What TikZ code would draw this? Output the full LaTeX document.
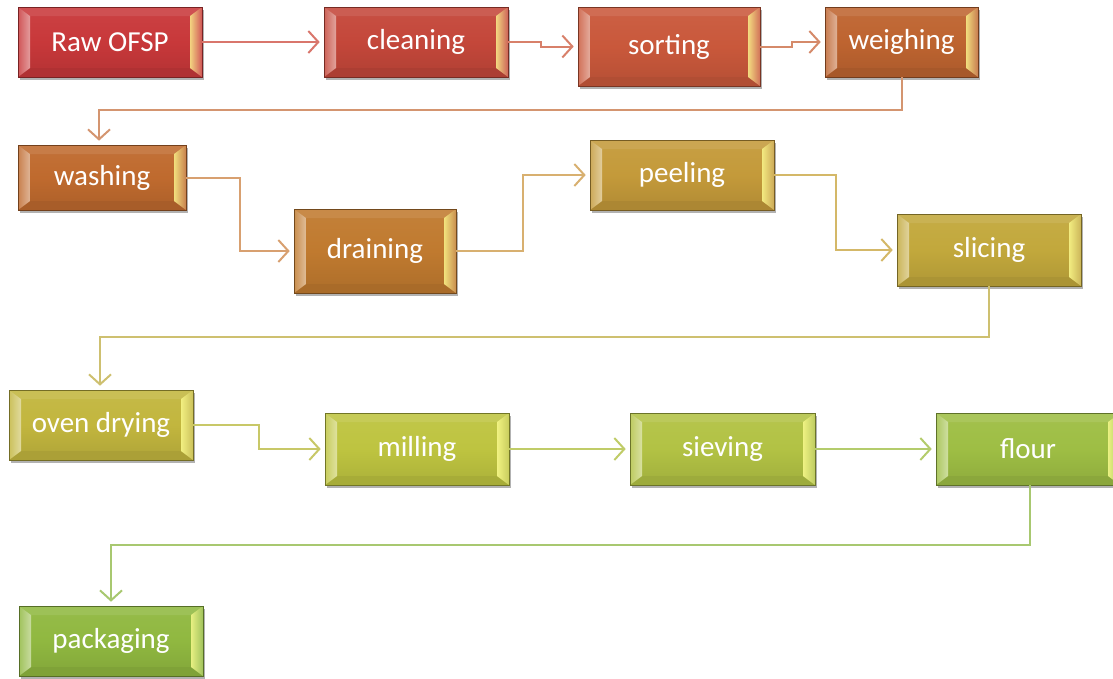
\documentclass[tikz,border=0pt]{standalone}
\usepackage{fontspec}
\setmainfont{Carlito}
\usetikzlibrary{arrows.meta,shadows}
\definecolor{c1}{HTML}{C8383A}
\definecolor{c2}{HTML}{C4473A}
\definecolor{c3}{HTML}{C9583B}
\definecolor{c4}{HTML}{BE6430}
\definecolor{c5}{HTML}{BF6A2E}
\definecolor{c6}{HTML}{C07A2F}
\definecolor{c7}{HTML}{C49A3A}
\definecolor{c8}{HTML}{C2A83C}
\definecolor{c9}{HTML}{C2B63E}
\definecolor{c10}{HTML}{BEC440}
\definecolor{c11}{HTML}{B2C244}
\definecolor{c12}{HTML}{9EBE44}
\definecolor{c13}{HTML}{90B840}
\definecolor{a1}{HTML}{D9766C}
\definecolor{a2}{HTML}{D8806A}
\definecolor{a3}{HTML}{D58A6A}
\definecolor{a4}{HTML}{D49570}
\definecolor{a5}{HTML}{D8A070}
\definecolor{a6}{HTML}{D8B070}
\definecolor{a7}{HTML}{D4B868}
\definecolor{a8}{HTML}{CEC070}
\definecolor{a9}{HTML}{C8C868}
\definecolor{a10}{HTML}{C0CC68}
\definecolor{a11}{HTML}{B4CC6C}
\definecolor{a12}{HTML}{A8C870}
\newcommand\ppb{path picture bounding box}
\tikzset{
  bevbox/.style={rectangle, minimum width=184pt, minimum height=70pt, inner sep=0pt,
    text=white, font=\fontsize{29}{34}\selectfont, draw=#1!60!black, line width=0.6pt,
    top color=#1!95!white, bottom color=#1!90!black, middle color=#1,
    drop shadow={shadow xshift=1.5pt, shadow yshift=-3pt, opacity=0.3, fill=black},
    path picture={
      \fill[#1!88!white] (\ppb.north west) -- (\ppb.north east) -- ([shift={(-12pt,-9pt)}]\ppb.north east) -- ([shift={(12pt,-9pt)}]\ppb.north west) -- cycle;
      \fill[#1!88!black] (\ppb.south west) -- (\ppb.south east) -- ([shift={(-12pt,9pt)}]\ppb.south east) -- ([shift={(12pt,9pt)}]\ppb.south west) -- cycle;
      \shade[left color=#1!85!white, right color=#1!50!white] (\ppb.south west) -- (\ppb.north west) -- ([shift={(12pt,-9pt)}]\ppb.north west) -- ([shift={(12pt,9pt)}]\ppb.south west) -- cycle;
      \shade[left color=#1!40!yellow!55!white, right color=#1!85!white] (\ppb.south east) -- (\ppb.north east) -- ([shift={(-12pt,-9pt)}]\ppb.north east) -- ([shift={(-12pt,9pt)}]\ppb.south east) -- cycle;
    }},
  conn/.style={draw=#1, line width=2pt, -{Straight Barb[length=10pt,width=22pt,line width=2pt]}, shorten >=4pt}
}
\begin{document}
\begin{tikzpicture}
\useasboundingbox (0,0) rectangle (1113pt,-678pt);
\node[bevbox=c1] (raw) at (110pt,-42pt) {Raw OFSP};
\node[bevbox=c2] (clean) at (416pt,-42pt) {cleaning};
\node[bevbox=c3, minimum width=182pt, minimum height=79pt] (sort) at (669pt,-46.5pt) {sorting};
\node[bevbox=c4, minimum width=153pt] (weigh) at (901.5pt,-42pt) {weighing};
\node[bevbox=c5, minimum width=168pt, minimum height=65pt] (wash) at (102pt,-177.5pt) {washing};
\node[bevbox=c6, minimum width=162pt, minimum height=84pt] (drain) at (375pt,-251pt) {draining};
\node[bevbox=c7] (peel) at (682pt,-175pt) {peeling};
\node[bevbox=c8, minimum height=72pt] (slice) at (989pt,-250pt) {slicing};
\node[bevbox=c9] (oven) at (101pt,-425pt) {oven drying};
\node[bevbox=c10, minimum height=72pt] (mill) at (417pt,-449pt) {milling};
\node[bevbox=c11, minimum width=185pt, minimum height=72pt] (sieve) at (722.5pt,-449pt) {sieving};
\node[bevbox=c12, minimum height=72pt] (flour) at (1028pt,-449pt) {flour};
\node[bevbox=c13] (pack) at (111pt,-641pt) {packaging};

\draw[conn=a1] (raw.east) -- (clean.west);
\draw[conn=a2] (clean.east) -- ++(33pt,0) |- (sort.west);
\draw[conn=a3] (sort.east) -- ++(32pt,0) |- (weigh.west);
\draw[conn=a4] (weigh.south) -- ++(0,-33pt) -| ([xshift=-3pt]wash.north);
\draw[conn=a5] (wash.east) -- ++(54pt,0) |- (drain.west);
\draw[conn=a6] (drain.east) -- ++(67pt,0) |- (peel.west);
\draw[conn=a7] (peel.east) -- ++(62pt,0) |- (slice.west);
\draw[conn=a8] (slice.south) -- ++(0,-51pt) -| ([xshift=-1pt]oven.north);
\draw[conn=a9] (oven.east) -- ++(66pt,0) |- (mill.west);
\draw[conn=a10] (mill.east) -- (sieve.west);
\draw[conn=a11] (sieve.east) -- (flour.west);
\draw[conn=a12] ([xshift=2pt]flour.south) -- ++(0,-60pt) -| (pack.north);
\end{tikzpicture}
\end{document}
